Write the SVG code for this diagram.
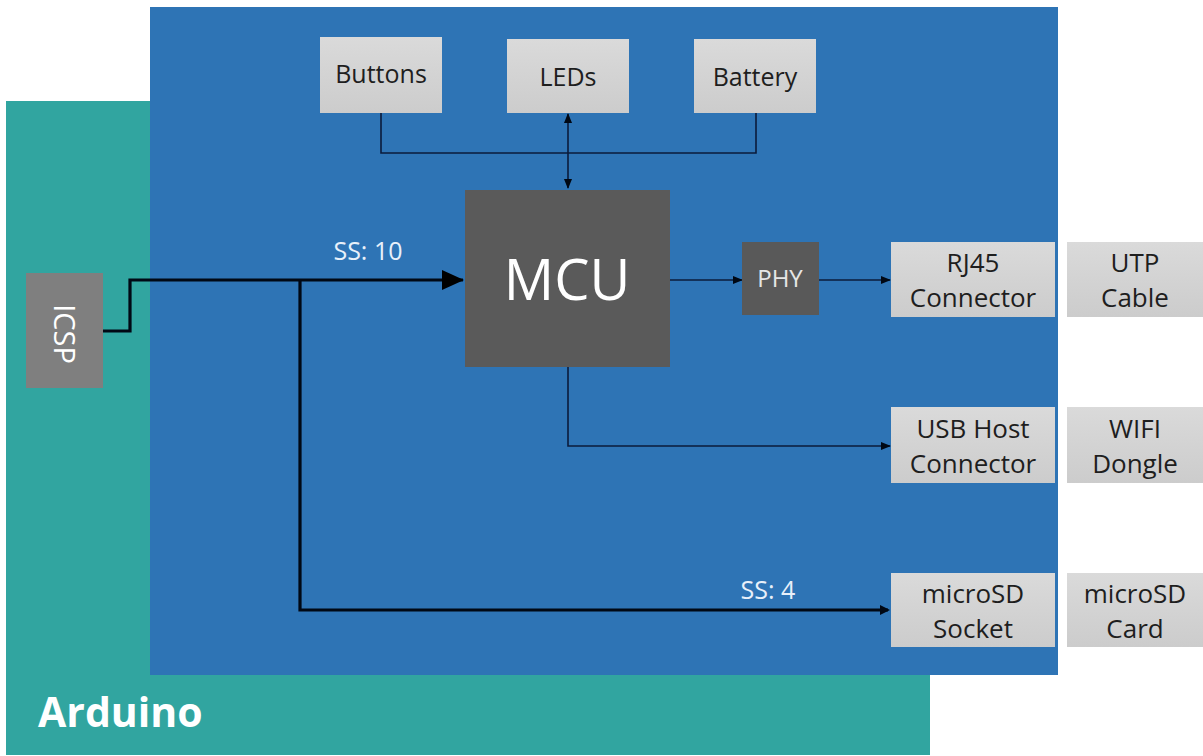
<svg xmlns="http://www.w3.org/2000/svg" width="1203" height="756" viewBox="0 0 1203 756">
<style>
.t{font-family:"Open Sans","Noto Sans","Liberation Sans",sans-serif;text-anchor:middle}
.dk{fill:#1e1e1e}
.wh{fill:#ffffff}
.box{fill:url(#g)}
.thin{stroke:#0b1b3b;stroke-width:1.6;fill:none}
.thick{stroke:#000814;stroke-width:3.2;fill:none}
</style>
<defs>
<linearGradient id="g" x1="0" y1="0" x2="0" y2="1">
<stop offset="0" stop-color="#dadada"/>
<stop offset="1" stop-color="#cccccc"/>
</linearGradient>
<marker id="a" markerWidth="10" markerHeight="8" refX="9" refY="4" orient="auto-start-reverse" markerUnits="userSpaceOnUse">
<path d="M0,0 L10,4 L0,8 z" fill="#000814"/>
</marker>
<marker id="A" markerWidth="22" markerHeight="20" refX="21" refY="10" orient="auto" markerUnits="userSpaceOnUse">
<path d="M0,0 L22,10 L0,20 z" fill="#000"/>
</marker>
</defs>
<rect width="1203" height="756" fill="#ffffff"/>
<g id="arduino">
<rect x="6" y="101" width="924" height="654" fill="#31a5a0"/>
<text class="wh" x="38" y="727" font-family="Open Sans,Noto Sans,Liberation Sans,sans-serif" font-weight="bold" font-size="41">Arduino</text>
</g>
<g id="shield">
<rect x="150" y="7" width="908" height="668" fill="#2e74b5"/>
</g>
<g id="connectors">
<path class="thin" d="M381,113 V153 H756 V113"/>
<path class="thin" d="M568,114 V188" marker-start="url(#a)" marker-end="url(#a)"/>
<path class="thin" d="M670,280 H742" marker-end="url(#a)"/>
<path class="thin" d="M819,280 H890" marker-end="url(#a)"/>
<path class="thin" d="M568,367 V446 H890" marker-end="url(#a)"/>
<path class="thick" d="M102,331 H130 V280 H463" marker-end="url(#A)"/>
<path class="thick" d="M300,280 V610 H888"/>
<path d="M880,605 L890,610 L880,615 z" fill="#000814"/>
<text class="t" x="368" y="260" font-size="25" fill="#e8f0fa">SS: 10</text>
<text class="t" x="768" y="599" font-size="25" fill="#e8f0fa">SS: 4</text>
</g>
<g id="icsp">
<rect x="26" y="273" width="77" height="115" fill="#7f7f7f"/>
<text class="t wh" x="0" y="0" font-size="29" transform="translate(54,334) rotate(90)">ICSP</text>
</g>
<g id="buttons">
<rect class="box" x="320" y="37" width="122" height="76"/>
<text class="t dk" x="381" y="83" font-size="25">Buttons</text>
</g>
<g id="leds">
<rect class="box" x="507" y="39" width="122" height="74"/>
<text class="t dk" x="568" y="86" font-size="25">LEDs</text>
</g>
<g id="battery">
<rect class="box" x="694" y="39" width="122" height="74"/>
<text class="t dk" x="755" y="86" font-size="25">Battery</text>
</g>
<g id="mcu">
<rect x="465" y="190" width="205" height="177" fill="#5a5a5a"/>
<text class="t wh" x="567" y="300" font-size="56">MCU</text>
</g>
<g id="phy">
<rect x="742" y="242" width="77" height="73" fill="#595959"/>
<text class="t" x="780" y="287" font-size="24" fill="#e6e6e6">PHY</text>
</g>
<g id="rj45">
<rect class="box" x="891" y="242" width="164" height="75"/>
<text class="t dk" x="973" y="272" font-size="26">RJ45</text>
<text class="t dk" x="973" y="307" font-size="26">Connector</text>
</g>
<g id="utp">
<rect class="box" x="1067" y="242" width="136" height="75"/>
<text class="t dk" x="1135" y="272" font-size="26">UTP</text>
<text class="t dk" x="1135" y="307" font-size="26">Cable</text>
</g>
<g id="usbhost">
<rect class="box" x="891" y="407" width="164" height="76"/>
<text class="t dk" x="973" y="438" font-size="26">USB  Host</text>
<text class="t dk" x="973" y="473" font-size="26">Connector</text>
</g>
<g id="wifi">
<rect class="box" x="1067" y="407" width="136" height="76"/>
<text class="t dk" x="1135" y="438" font-size="26">WIFI</text>
<text class="t dk" x="1135" y="473" font-size="26">Dongle</text>
</g>
<g id="sdsocket">
<rect class="box" x="891" y="573" width="164" height="74"/>
<text class="t dk" x="973" y="603" font-size="26">microSD</text>
<text class="t dk" x="973" y="638" font-size="26">Socket</text>
</g>
<g id="sdcard">
<rect class="box" x="1067" y="573" width="136" height="74"/>
<text class="t dk" x="1135" y="603" font-size="26">microSD</text>
<text class="t dk" x="1135" y="638" font-size="26">Card</text>
</g>
</svg>
